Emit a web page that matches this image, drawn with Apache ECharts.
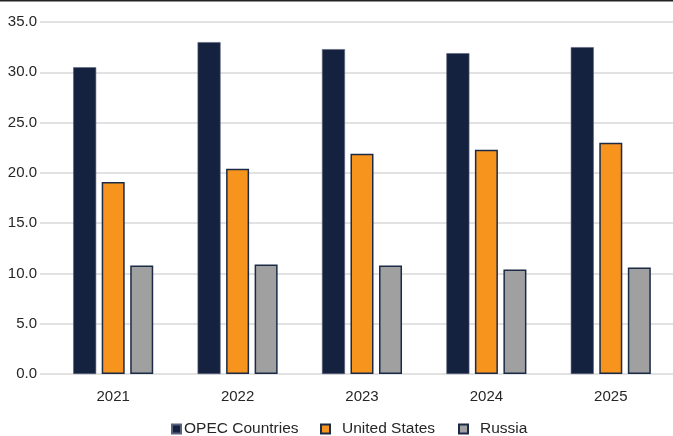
<!DOCTYPE html>
<html>
<head>
<meta charset="utf-8">
<script src="https://cdn.jsdelivr.net/npm/echarts@6/dist/echarts.min.js"></script>
<style>
  html, body { margin: 0; padding: 0; background: #fff; }
  #chart { width: 673px; height: 436px; }
</style>
</head>
<body>
<div id="chart"></div>
<script>
// Production by producer group, per year
const years = ['2021', '2022', '2023', '2024', '2025'];
const opec = [30.5, 33.0, 32.3, 31.9, 32.5];
const unitedStates = [19.1, 20.4, 21.9, 22.3, 23.0];
const russia = [10.8, 10.9, 10.8, 10.4, 10.6];
const seriesNames = ['OPEC Countries', 'United States', 'Russia'];

const NAVY = '#15223f';
const ORANGE = '#f7941d';
const GRAY = '#a0a0a0';
const EDGE = '#1b2a47';
const FONT = 'Liberation Sans, Arial, sans-serif';

const chart = echarts.init(document.getElementById('chart'));

const legendText = { fontFamily: FONT, fontSize: 15.5, color: '#262626' };
const legendBase = {
  top: 421,
  itemWidth: 9,
  itemHeight: 9,
  icon: 'rect',
  padding: 0
};

chart.setOption({
  animation: false,
  backgroundColor: '#ffffff',
  textStyle: { fontFamily: FONT },
  graphic: [{
    type: 'line',
    shape: { x1: 0, y1: 0.5, x2: 673, y2: 0.5 },
    style: { stroke: '#222222', lineWidth: 2 }
  }],
  legend: [
    Object.assign({}, legendBase, { left: 171, data: [seriesNames[0]],
      textStyle: Object.assign({}, legendText, { padding: [0, 0, 0, -2] }) }),
    Object.assign({}, legendBase, { left: 320, data: [seriesNames[1]],
      textStyle: Object.assign({}, legendText, { padding: [0, 0, 0, 7] }) }),
    Object.assign({}, legendBase, { left: 458, data: [seriesNames[2]],
      textStyle: Object.assign({}, legendText, { padding: [0, 0, 0, 7] }) })
  ],
  grid: [
    { left: 51, right: -2, top: 22, bottom: 62 },
    { left: 40, right: 0, top: 22, bottom: 62 }
  ],
  xAxis: [
    {
      type: 'category',
      gridIndex: 0,
      data: years,
      axisLine: { show: false },
      axisTick: { show: false },
      axisLabel: { fontSize: 15, color: '#262626', margin: 15, fontFamily: FONT }
    },
    { type: 'value', gridIndex: 1, show: false, min: 0, max: 1 }
  ],
  yAxis: [
    { type: 'value', gridIndex: 0, min: 0, max: 35, interval: 5, show: false },
    {
      type: 'value',
      gridIndex: 1,
      min: 0,
      max: 35,
      interval: 5,
      axisLine: { show: false },
      axisTick: { show: false },
      axisLabel: {
        fontSize: 15,
        color: '#262626',
        margin: 3,
        fontFamily: FONT,
        formatter: v => v.toFixed(1)
      },
      splitLine: { lineStyle: { color: '#d9d9d9', width: 1.5 } }
    }
  ],
  series: [
    {
      name: seriesNames[0],
      type: 'bar',
      data: opec,
      barWidth: 23,
      barGap: '24%',
      itemStyle: { color: NAVY, borderColor: '#59627a', borderWidth: 0.6 }
    },
    {
      name: seriesNames[1],
      type: 'bar',
      data: unitedStates,
      barWidth: 23,
      barGap: '24%',
      itemStyle: { color: ORANGE, borderColor: EDGE, borderWidth: 1.5 }
    },
    {
      name: seriesNames[2],
      type: 'bar',
      data: russia,
      barWidth: 23,
      barGap: '24%',
      itemStyle: { color: GRAY, borderColor: EDGE, borderWidth: 1.5 }
    }
  ]
});
</script>
</body>
</html>
